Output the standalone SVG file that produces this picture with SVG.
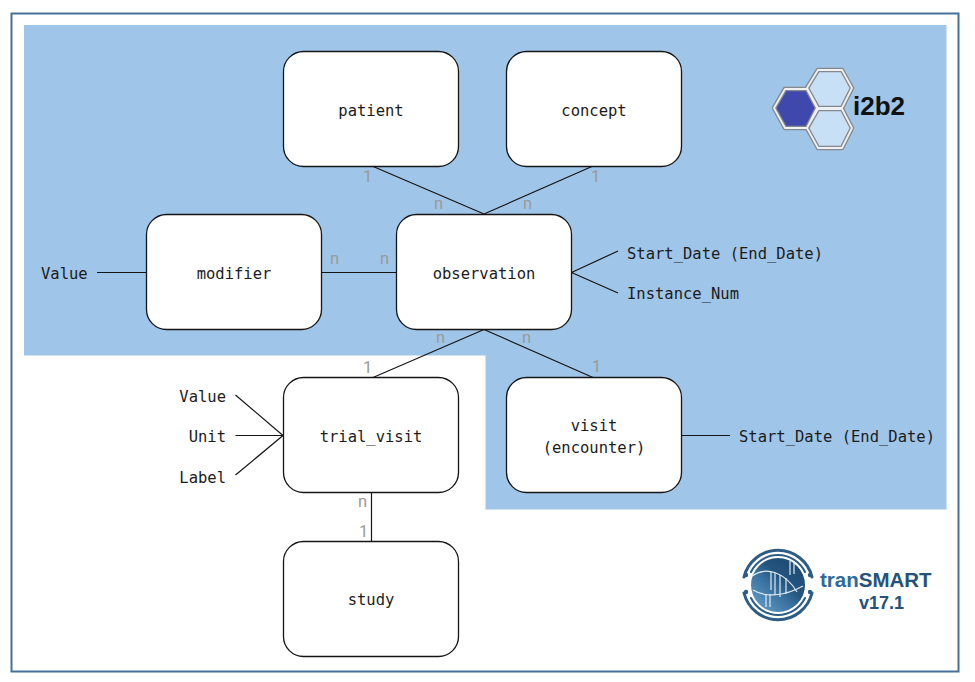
<svg xmlns="http://www.w3.org/2000/svg" width="975" height="682" viewBox="0 0 975 682">
<style>
.n{fill:#fff;stroke:#151515;stroke-width:1.3}
.c{fill:none;stroke:#151515;stroke-width:1.2}
text{font-family:"DejaVu Sans Mono",monospace;font-size:15.5px;fill:#1c1c1c}
.m{text-anchor:middle}
.e{text-anchor:end}
.g{font-family:Roboto,"Liberation Sans",sans-serif;font-weight:400;fill:#9a9a9a;font-size:16.500px}
.b{font-family:"Liberation Sans",Arial,sans-serif;font-weight:700}
.hb{stroke:#85888c;stroke-width:4.500;stroke-linejoin:round}
.hw{fill:none;stroke:#eef0f2;stroke-width:1.800;stroke-linejoin:round}
.lg{fill:none;stroke:#2d5d86;stroke-linecap:round}
.lw{fill:none;stroke:#dfe9f2;stroke-width:1.200}
.d{fill:#2d5d86}
</style>
<defs>
<linearGradient id="disc" x1="0.15" y1="0.85" x2="0.75" y2="0.2"><stop offset="0" stop-color="#5a93c0"/><stop offset="0.45" stop-color="#38709d"/><stop offset="0.7" stop-color="#245580"/><stop offset="1" stop-color="#1f4e78"/></linearGradient>
</defs>
<rect x="11.500" y="13.500" width="947" height="658" fill="#fff" stroke="#44709a" stroke-width="2"/>
<path d="M24 25H946.500V509.500H485.500V355.500H24Z" fill="#9fc5e8"/>
<g id="connectors">
<path class="c" d="M372 166L484 214M593 166L484 214"/>
<path class="c" d="M97 272.500H147M321 272.500H397"/>
<path class="c" d="M571.500 272.500L618 251M571.500 272.500L618 293"/>
<path class="c" d="M484 329.500L373 377.500M484 329.500L593 377.500"/>
<path class="c" d="M681 435.500H730"/>
<path class="c" d="M235.500 395L283 435.500M235.500 435.500H283M235.500 475L283 435.500"/>
<path class="c" d="M371.500 492V542"/>
</g>
<g id="patient"><rect class="n" x="283.500" y="51.500" width="175" height="115" rx="20"/><text class="m" x="371" y="116">patient</text></g>
<g id="concept"><rect class="n" x="506.500" y="51.500" width="175" height="115" rx="20"/><text class="m" x="594" y="116">concept</text></g>
<g id="modifier"><rect class="n" x="146.500" y="214.500" width="175" height="115" rx="20"/><text class="m" x="234" y="279">modifier</text></g>
<g id="observation"><rect class="n" x="396.500" y="214.500" width="175" height="115" rx="20"/><text class="m" x="484" y="279">observation</text></g>
<g id="trial_visit"><rect class="n" x="283.500" y="377.500" width="175" height="115" rx="20"/><text class="m" x="371" y="442">trial_visit</text></g>
<g id="visit"><rect class="n" x="506.500" y="377.500" width="175" height="115" rx="20"/><text class="m" x="594" y="431">visit</text><text class="m" x="594" y="453">(encounter)</text></g>
<g id="study"><rect class="n" x="283.500" y="541.500" width="175" height="115" rx="20"/><text class="m" x="371" y="605">study</text></g>
<g id="attributes">
<text x="41" y="279">Value</text>
<text x="627" y="259">Start_Date (End_Date)</text>
<text x="627" y="299">Instance_Num</text>
<text x="739" y="442">Start_Date (End_Date)</text>
<text class="e" x="226" y="402">Value</text>
<text class="e" x="226" y="442">Unit</text>
<text class="e" x="226" y="483">Label</text>
</g>
<g id="cardinalities">
<text class="g" x="363" y="182">1</text><text class="g" x="434" y="209">n</text><text class="g" x="523" y="209">n</text><text class="g" x="591" y="182">1</text>
<text class="g" x="330" y="264">n</text><text class="g" x="380" y="264">n</text>
<text class="g" x="436" y="343">n</text><text class="g" x="522" y="343">n</text><text class="g" x="363" y="373">1</text><text class="g" x="592" y="372">1</text>
<text class="g" x="358" y="507">n</text><text class="g" x="359" y="537">1</text>
</g>
<g id="i2b2-logo">
<path class="hb" fill="#c7e0f6" d="M818 70H842L852 88L842 108H818L807 88Z"/>
<path class="hb" fill="#c7e0f6" d="M818 109H842L852 128L842 148H818L807 128Z"/>
<path class="hb" fill="#3f48ad" d="M785 89H807L817 108L807 128H785L774 108Z"/>
<path class="hw" d="M818 70H842L852 88L842 108H818L807 88ZM818 109H842L852 128L842 148H818L807 128ZM785 89H807L817 108L807 128H785L774 108Z"/>
<text class="b" x="853" y="115" style="font-size:26px;fill:#111">i2b2</text>
</g>
<g id="transmart-logo">
<path class="lg" stroke-width="3" d="M744 577A35 35 0 0 1 812 577M744 593A35 35 0 0 0 812 593"/>
<path class="lg" stroke-width="2" d="M751 572A30 30 0 0 1 805 572M751 598A30 30 0 0 0 805 598"/>
<circle cx="778" cy="585" r="27" fill="url(#disc)"/>
<circle class="d" cx="746" cy="575" r="2.200"/><circle class="d" cx="746" cy="592" r="2.200"/><circle class="d" cx="810" cy="575" r="2.200"/><circle class="d" cx="810" cy="592" r="2.200"/>
<path class="lw" d="M752 576C766 566 785 572 797 592M753 590C766 598 785 596 803 586"/>
<path class="lw" d="M771 572V590M775 573V595M780 575V597M786 578V594M790 561V575M794 561V574M766 594V607M770 594V607"/>
<text class="b" x="820" y="587" style="font-size:20.500px;fill:#2f6a9a">tran<tspan fill="#24527a">SMART</tspan></text>
<text class="b" x="859" y="609" style="font-size:18px;fill:#24527a">v17.1</text>
</g>
</svg>
